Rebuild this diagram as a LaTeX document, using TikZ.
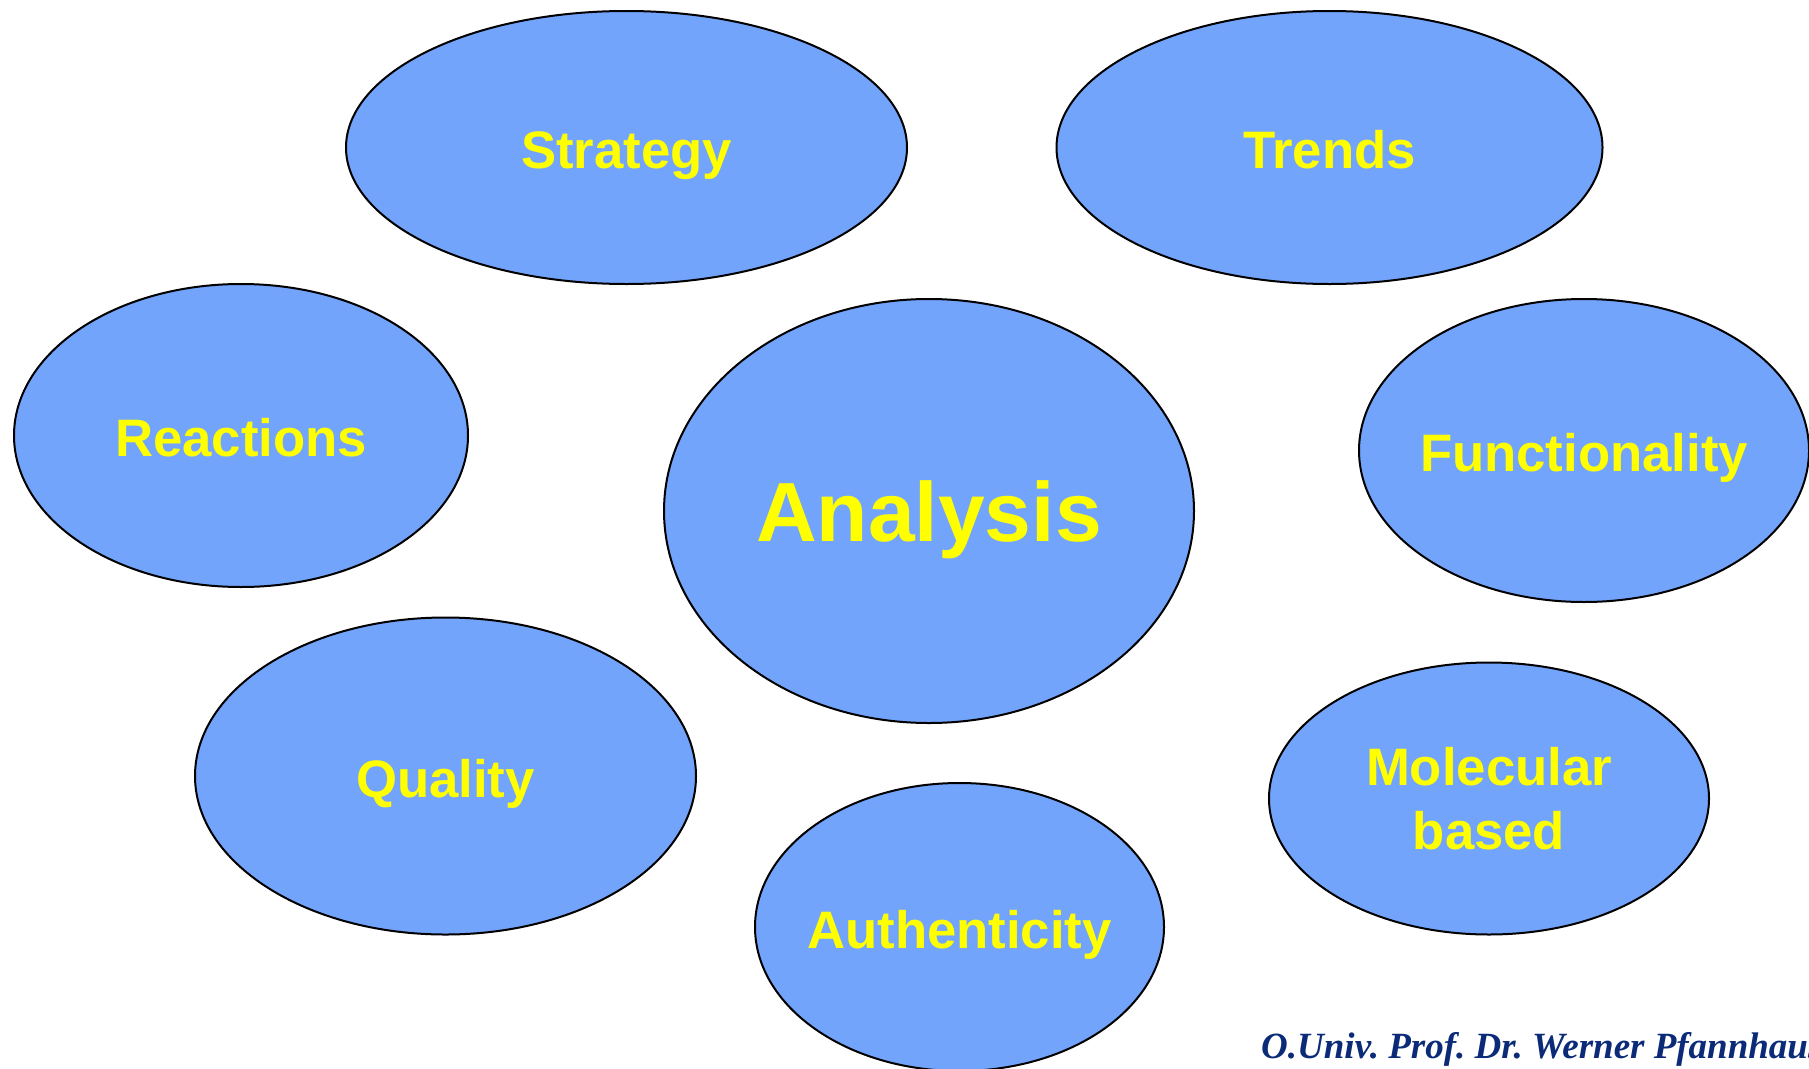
\documentclass[tikz,border=0pt]{standalone}
\usepackage{fontspec}
\usepackage{xcolor}
\usepackage{tikz}
\usetikzlibrary{shapes.geometric}
\newfontfamily\bubblefont{Liberation Sans}
\newfontfamily\footfont{Liberation Serif}
\definecolor{bubbleblue}{HTML}{73A4FC}
\definecolor{bubbletext}{HTML}{FFFF00}
\definecolor{footnavy}{HTML}{0B2A78}
\tikzset{
    every picture/.style={line cap=round,line join=round},
    bubble/.style={ellipse,draw=black,fill=bubbleblue,line width=2pt,
      inner sep=0pt,outer sep=0pt},
    bubblelabel/.style={inner sep=0pt,text=bubbletext,align=center,
      text height=47.4pt,text depth=4.8pt,
      font=\bubblefont\bfseries\fontsize{52.7}{64}\selectfont},
    twolinelabel/.style={inner sep=0pt,text=bubbletext,align=center,
      font=\bubblefont\bfseries\fontsize{52.7}{64}\selectfont},
    biglabel/.style={bubblelabel,text height=68pt,text depth=8pt,
      font=\bubblefont\bfseries\fontsize{84}{100}\selectfont},
    footer/.style={anchor=base west,inner sep=0pt,text=footnavy,
      font=\footfont\bfseries\itshape\fontsize{37}{40}\selectfont}
}
\begin{document}
\frenchspacing
\begin{tikzpicture}[x=1pt,y=-1pt]
    \useasboundingbox (0,0) rectangle (1809,1068);
    \node[bubble,minimum width=561pt,minimum height=273pt] (strategy) at (626.5,147.5) {};
    \node[bubble,minimum width=546pt,minimum height=273pt] (trends) at (1329.5,147.5) {};
    \node[bubble,minimum width=454pt,minimum height=303pt] (reactions) at (241,435.5) {};
    \node[bubble,minimum width=530pt,minimum height=424pt] (analysis) at (929,511) {};
    \node[bubble,minimum width=450pt,minimum height=303pt] (function) at (1584,450.5) {};
    \node[bubble,minimum width=501pt,minimum height=317pt] (quality) at (445.5,776) {};
    \node[bubble,minimum width=409pt,minimum height=288pt] (authentic) at (959.5,927) {};
    \node[bubble,minimum width=440pt,minimum height=272pt] (molecular) at (1489,798.5) {};
    % labels on the bubbles
    \node[bubblelabel] (strategy-text) at (strategy.center) {Strategy};
    \node[bubblelabel] (trends-text) at (trends.center) {Trends};
    \node[bubblelabel] (reactions-text) at (reactions.center) {Reactions};
    \node[biglabel] (analysis-text) at (analysis.center) {Analysis};
    \node[bubblelabel] (function-text) at (function.center) {Functionality};
    \node[bubblelabel] (quality-text) at (quality.center) {Quality};
    \node[bubblelabel] (authentic-text) at (authentic.center) {Authenticity};
    \node[twolinelabel] (molecular-text) at (molecular.center) {Molecular\\based};
    % author line, cut off at the right edge
    \node[footer] (author) at (1261,1058) {O.Univ. Prof. Dr. Werner Pfannhauser};
\end{tikzpicture}
\end{document}
